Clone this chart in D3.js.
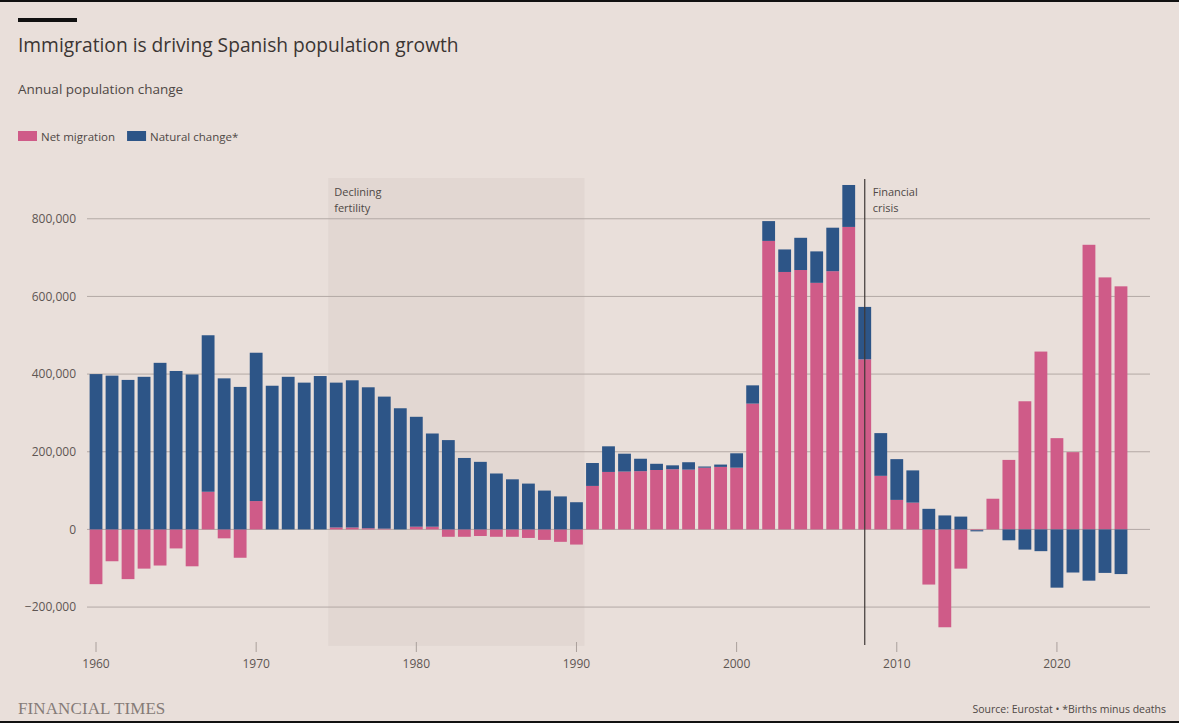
<!DOCTYPE html>
<html>
<head>
<meta charset="utf-8">
<script src="https://cdn.jsdelivr.net/npm/d3@7"></script>
<style>
  html, body { margin: 0; padding: 0; background: #e9dfda; }
  svg { display: block; }
  text { font-family: "Open Sans", "Noto Sans", sans-serif; }
</style>
</head>
<body>
<div id="chart"></div>
<script>
// Categories (years)
const years = d3.range(1960, 2025);

// Net migration per year
const netMigration = [
    -141, -82, -128, -101, -93, -49, -95, 97, -23, -73,
    73, 0, 0, 0, 0, 5, 5, 3, 2, 0,
    7, 7, -19, -19, -17, -19, -19, -22, -27, -32,
    -39, 112, 148, 149, 150, 153, 155, 154, 159, 161,
    159, 324, 743, 663, 668, 635, 665, 779, 438, 138,
    76, 69, -142, -252, -101, -2, 79, 179, 330, 458,
    235, 199, 733, 649, 626
].map(v => v * 1000);

// Natural change (births minus deaths) per year
const naturalChange = [
    400, 396, 385, 393, 429, 408, 399, 403, 389, 367,
    382, 370, 393, 378, 395, 373, 379, 363, 340, 312,
    283, 240, 230, 184, 174, 144, 129, 118, 100, 85,
    70, 59, 66, 46, 32, 16, 10, 19, 3, 6,
    37, 47, 51, 58, 83, 81, 112, 108, 135, 110,
    105, 83, 53, 36, 33, -3, 0, -28, -52, -56,
    -150, -111, -132, -112, -115
].map(v => v * 1000);

const yTicks = [-200000, 0, 200000, 400000, 600000, 800000];
const xTicks = [1960, 1970, 1980, 1990, 2000, 2010, 2020];

const seriesKeys = ['migration', 'natural'];
const seriesLabels = ['Net migration', 'Natural change*'];
const colors = { migration: '#cf5b88', natural: '#2d5587' };

const width = 1179;
const height = 723;

const svg = d3.select('#chart')
    .append('svg')
    .attr('width', width)
    .attr('height', height);

svg.append('rect')
    .attr('width', width)
    .attr('height', height)
    .attr('fill', '#e9dfda');

// frame edges from the screenshot
svg.append('rect').attr('x', 0).attr('y', 0).attr('width', width).attr('height', 2).attr('fill', '#111');
svg.append('rect').attr('x', 0).attr('y', height - 2).attr('width', width).attr('height', 2).attr('fill', '#111');

// Header
svg.append('rect')
    .attr('x', 18).attr('y', 18)
    .attr('width', 59).attr('height', 4)
    .attr('fill', '#111');

svg.append('text')
    .attr('x', 18).attr('y', 52)
    .attr('font-size', 19.2)
    .attr('fill', '#3b3533')
    .text('Immigration is driving Spanish population growth');

svg.append('text')
    .attr('x', 18).attr('y', 94)
    .attr('font-size', 13.5)
    .attr('fill', '#4f4845')
    .text('Annual population change');

// Legend
const legend = svg.append('g').attr('class', 'legend');
let lx = 18;
seriesKeys.forEach((key, i) => {
    legend.append('rect')
        .attr('x', lx).attr('y', 131)
        .attr('width', 19).attr('height', 10)
        .attr('fill', colors[key]);
    const t = legend.append('text')
        .attr('x', lx + 23).attr('y', 140.5)
        .attr('font-size', 11.5)
        .attr('fill', '#4f4845')
        .text(seriesLabels[i]);
    lx += 23 + t.node().getComputedTextLength() + 12;
});

// Scales
const x = d3.scaleBand()
    .domain(years)
    .range([88, 1129])
    .paddingInner(0.2)
    .paddingOuter(0.1);

const y = d3.scaleLinear()
    .domain([-300000, 905000])
    .range([645.9, 178]);

const xc = (yr) => x(yr) + x.bandwidth() / 2;

// Shaded period: declining fertility
svg.append('rect')
    .attr('x', xc(1974) + x.step() / 2)
    .attr('width', (xc(1990) + x.step() / 2) - (xc(1974) + x.step() / 2))
    .attr('y', y.range()[1])
    .attr('height', y.range()[0] - y.range()[1])
    .attr('fill', '#e2d7d2');

// Gridlines and y labels
const yAxis = svg.append('g').attr('class', 'y-axis');
yAxis.selectAll('line')
    .data(yTicks)
    .enter()
    .append('line')
    .attr('x1', 87).attr('x2', 1150)
    .attr('y1', d => y(d)).attr('y2', d => y(d))
    .attr('stroke', '#b3a9a5')
    .attr('stroke-width', 1);

yAxis.selectAll('text')
    .data(yTicks)
    .enter()
    .append('text')
    .attr('x', 76)
    .attr('y', d => y(d))
    .attr('dy', '0.35em')
    .attr('text-anchor', 'end')
    .attr('font-size', 12)
    .attr('fill', '#5e5653')
    .text(d => d3.format(',')(d));

// Stacked bars
const table = years.map((yr, i) => ({ year: yr, migration: netMigration[i], natural: naturalChange[i] }));
const stacked = d3.stack()
    .keys(seriesKeys)
    .offset(d3.stackOffsetDiverging)(table);

svg.append('g')
    .attr('class', 'bars')
    .selectAll('g')
    .data(stacked)
    .enter()
    .append('g')
    .attr('fill', d => colors[d.key])
    .selectAll('rect')
    .data(d => d)
    .enter()
    .append('rect')
    .attr('x', d => x(d.data.year))
    .attr('width', x.bandwidth())
    .attr('y', d => y(Math.max(d[0], d[1])))
    .attr('height', d => Math.abs(y(d[0]) - y(d[1])));

// Financial crisis marker
svg.append('line')
    .attr('x1', xc(2008)).attr('x2', xc(2008))
    .attr('y1', 179).attr('y2', 645)
    .attr('stroke', '#3e3836')
    .attr('stroke-width', 1.2);

const annotate = (px, lines) => {
    const t = svg.append('text')
        .attr('x', px).attr('y', 196)
        .attr('font-size', 11)
        .attr('fill', '#4f4845');
    lines.forEach((l, i) => {
        t.append('tspan').attr('x', px).attr('dy', i === 0 ? 0 : 16).text(l);
    });
};
annotate(xc(1974) + x.step() / 2 + 6, ['Declining', 'fertility']);
annotate(xc(2008) + 8, ['Financial', 'crisis']);

// X axis ticks and labels
const xAxis = svg.append('g').attr('class', 'x-axis');
xAxis.selectAll('line')
    .data(xTicks)
    .enter()
    .append('line')
    .attr('x1', d => xc(d)).attr('x2', d => xc(d))
    .attr('y1', 642).attr('y2', 652)
    .attr('stroke', '#aaa09c');

xAxis.selectAll('text')
    .data(xTicks)
    .enter()
    .append('text')
    .attr('x', d => xc(d))
    .attr('y', 668)
    .attr('text-anchor', 'middle')
    .attr('font-size', 12)
    .attr('fill', '#5e5653')
    .text(d => d);

// Footer
svg.append('text')
    .attr('x', 18).attr('y', 714)
    .style('font-family', '"Liberation Serif", "DejaVu Serif", serif')
    .attr('font-size', 17)
    .attr('fill', '#857b77')
    .attr('letter-spacing', 0.1)
    .text('FINANCIAL TIMES');

svg.append('text')
    .attr('x', 1166).attr('y', 713)
    .attr('text-anchor', 'end')
    .attr('font-size', 10.5)
    .attr('fill', '#4f4845')
    .text('Source: Eurostat \u2022 *Births minus deaths');
</script>
</body>
</html>
